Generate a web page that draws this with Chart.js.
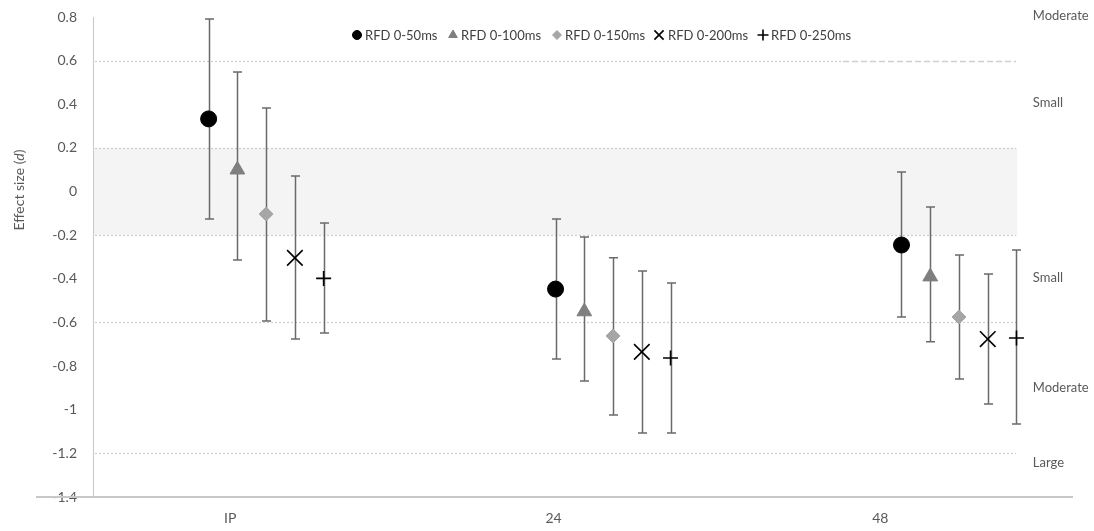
<!DOCTYPE html>
<html>
<head>
<meta charset="utf-8">
<script src="https://cdn.jsdelivr.net/npm/chart.js@4/dist/chart.umd.min.js"></script>
<style>
  html, body { margin: 0; padding: 0; background: #fff; }
  #wrap { width: 1094px; height: 531px; }
</style>
</head>
<body>
<div id="wrap"><canvas id="chart"></canvas></div>
<script>
// categories and where their labels sit on the x scale
const categories = ['IP', '24', '48'];
const tickPos = [0.42, 1.41, 2.41];
// centre of each group of markers and offset of each series inside a group
const groupCenters = [0.53, 1.592, 2.651];
const seriesOffsets = [-0.176, -0.088, 0, 0.088, 0.176];

const seriesNames = ['RFD 0-50ms', 'RFD 0-100ms', 'RFD 0-150ms', 'RFD 0-200ms', 'RFD 0-250ms'];

// effect sizes (d) and 95% limits per series: IP, 24, 48
const rfd50 = [0.333, -0.447, -0.245];
const rfd50Lo = [-0.126, -0.767, -0.575];
const rfd50Hi = [0.791, -0.126, 0.09];

const rfd100 = [0.10, -0.55, -0.39];
const rfd100Lo = [-0.314, -0.868, -0.689];
const rfd100Hi = [0.548, -0.208, -0.071];

const rfd150 = [-0.103, -0.662, -0.575];
const rfd150Lo = [-0.593, -1.024, -0.859];
const rfd150Hi = [0.383, -0.304, -0.291];

const rfd200 = [-0.304, -0.735, -0.676];
const rfd200Lo = [-0.676, -1.107, -0.974];
const rfd200Hi = [0.071, -0.364, -0.378];

const rfd250 = [-0.398, -0.763, -0.671];
const rfd250Lo = [-0.648, -1.107, -1.065];
const rfd250Hi = [-0.144, -0.419, -0.268];

// y ticks
const yTicks = [0.8, 0.6, 0.4, 0.2, 0, -0.2, -0.4, -0.6, -0.8, -1, -1.2, -1.4];

// threshold lines, trivial band, and zone labels on the right
const refLines = [0.6, 0.2, -0.2, -0.6, -1.2];
const trivialBand = [-0.2, 0.2];
const zoneLabels = ['Moderate', 'Small', 'Small', 'Moderate', 'Large'];
const zoneLabelY = [0.805, 0.406, -0.396, -0.9, -1.244];

const FONT = 'Lato, "Open Sans", sans-serif';

const means = [rfd50, rfd100, rfd150, rfd200, rfd250];
const lows = [rfd50Lo, rfd100Lo, rfd150Lo, rfd200Lo, rfd250Lo];
const highs = [rfd50Hi, rfd100Hi, rfd150Hi, rfd200Hi, rfd250Hi];

const styles = [
  { pointStyle: 'circle', radius: 8, fill: '#000000', stroke: '#000000', lr: 4.5 },
  { pointStyle: 'triangle', radius: 8.5, fill: '#7f7f7f', stroke: '#7f7f7f', lr: 5 },
  { pointStyle: 'rectRot', radius: 7, fill: '#a6a6a6', stroke: '#a6a6a6', lr: 4.5 },
  { pointStyle: 'crossRot', radius: 11, fill: '#000000', stroke: '#000000', lr: 6.5 },
  { pointStyle: 'cross', radius: 7.5, fill: '#000000', stroke: '#000000', lr: 5.5 },
];

const datasets = means.map((vals, s) => ({
  label: seriesNames[s],
  data: vals.map((v, g) => ({ x: groupCenters[g] + seriesOffsets[s], y: v })),
  pointStyle: styles[s].pointStyle,
  pointRadius: styles[s].radius,
  pointHoverRadius: styles[s].radius,
  backgroundColor: styles[s].fill,
  borderColor: styles[s].stroke,
  pointBorderWidth: (s >= 3) ? 1.6 : 1,
  showLine: false,
}));

// band, dotted thresholds and error bars, under the markers
const backdropPlugin = {
  id: 'backdrop',
  beforeDatasetsDraw(chart) {
    const { ctx, chartArea, scales: { x, y } } = chart;
    const xEnd = x.getPixelForValue(2.826);
    ctx.save();
    // trivial band
    ctx.fillStyle = '#f4f4f4';
    const yTop = y.getPixelForValue(trivialBand[1]);
    const yBot = y.getPixelForValue(trivialBand[0]);
    ctx.fillRect(chartArea.left + 1, yTop, xEnd - chartArea.left, yBot - yTop);
    // dotted reference lines
    ctx.strokeStyle = '#cfcfcf';
    ctx.lineWidth = 1.3;
    refLines.forEach(v => {
      const py = Math.round(y.getPixelForValue(v)) + 0.5;
      ctx.setLineDash([2, 2]);
      ctx.beginPath();
      if (v === 0.6) {
        const xDash = x.getPixelForValue(2.296);
        ctx.moveTo(chartArea.left + 2, py);
        ctx.lineTo(xDash, py);
        ctx.stroke();
        ctx.setLineDash([6, 3]);
        ctx.beginPath();
        ctx.moveTo(xDash, py);
        ctx.lineTo(xEnd, py);
      } else {
        ctx.moveTo(chartArea.left + 2, py);
        ctx.lineTo(xEnd, py);
      }
      ctx.stroke();
    });
    ctx.setLineDash([]);
    // error bars
    ctx.strokeStyle = '#6a6a6a';
    ctx.lineWidth = 1.5;
    means.forEach((vals, s) => {
      vals.forEach((v, g) => {
        const px = Math.round(x.getPixelForValue(groupCenters[g] + seriesOffsets[s])) + 0.5;
        const pLo = y.getPixelForValue(lows[s][g]);
        const pHi = y.getPixelForValue(highs[s][g]);
        ctx.beginPath();
        ctx.moveTo(px, pHi);
        ctx.lineTo(px, pLo);
        ctx.moveTo(px - 4.5, pHi);
        ctx.lineTo(px + 4.5, pHi);
        ctx.moveTo(px - 4.5, pLo);
        ctx.lineTo(px + 4.5, pLo);
        ctx.stroke();
      });
    });
    ctx.restore();
  },
  afterDraw(chart) {
    const { ctx, chartArea, scales: { x, y } } = chart;
    ctx.save();
    // x axis line, running left under the last y label like the original
    ctx.strokeStyle = '#c8c8c8';
    ctx.lineWidth = 2;
    ctx.beginPath();
    ctx.moveTo(36, chartArea.bottom);
    ctx.lineTo(chartArea.right, chartArea.bottom);
    ctx.stroke();

    // zone labels on the right
    ctx.fillStyle = '#595959';
    ctx.font = '13px ' + FONT;
    ctx.textAlign = 'left';
    ctx.textBaseline = 'middle';
    const zx = x.getPixelForValue(2.877);
    zoneLabels.forEach((t, i) => ctx.fillText(t, zx, y.getPixelForValue(zoneLabelY[i])));

    // y axis title with italic d
    ctx.translate(19, 190);
    ctx.rotate(-Math.PI / 2);
    const parts = [['Effect size (', '14px ' + FONT], ['d', 'italic 14px ' + FONT], [')', '14px ' + FONT]];
    let total = 0;
    parts.forEach(p => { ctx.font = p[1]; total += ctx.measureText(p[0]).width; });
    let cx = -total / 2;
    parts.forEach(p => {
      ctx.font = p[1];
      ctx.fillText(p[0], cx, 0);
      cx += ctx.measureText(p[0]).width;
    });
    ctx.restore();

    // legend
    ctx.save();
    const legendX = [357, 453, 557, 659, 763];
    const legendY = 35;
    ctx.font = '13px ' + FONT;
    ctx.textBaseline = 'middle';
    ctx.textAlign = 'left';
    seriesNames.forEach((name, s) => {
      ctx.fillStyle = styles[s].fill;
      ctx.strokeStyle = styles[s].stroke;
      ctx.lineWidth = s >= 3 ? 1.6 : 1;
      Chart.helpers.drawPoint(ctx, { pointStyle: styles[s].pointStyle, radius: styles[s].lr, rotation: 0, borderWidth: ctx.lineWidth }, legendX[s], legendY);
      ctx.fillStyle = '#404040';
      ctx.fillText(name, legendX[s] + (s === 3 ? 9 : 8), legendY + 1);
    });
    ctx.restore();
  }
};

new Chart(document.getElementById('chart'), {
  type: 'scatter',
  data: { datasets },
  options: {
    responsive: true,
    maintainAspectRatio: false,
    animation: false,
    layout: { padding: { top: 17, right: 21, left: 0, bottom: 0 } },
    plugins: {
      legend: { display: false },
      tooltip: { enabled: false },
    },
    scales: {
      x: {
        type: 'linear',
        min: 0,
        max: 3,
        afterBuildTicks(scale) {
          scale.ticks = tickPos.map(v => ({ value: v }));
        },
        afterFit(scale) {
          scale.height = 34;
          scale.paddingLeft = 0;
          scale.paddingRight = 0;
        },
        grid: { display: false, drawTicks: false },
        border: { display: false },
        ticks: {
          autoSkip: false,
          maxRotation: 0,
          padding: 13,
          color: '#595959',
          font: { family: FONT, size: 14 },
          callback: (v, i) => categories[i],
        },
      },
      y: {
        min: -1.4,
        max: 0.8,
        afterBuildTicks(scale) {
          scale.ticks = yTicks.map(v => ({ value: v }));
        },
        afterFit(scale) {
          scale.width = 93;
          scale.paddingTop = 0;
          scale.paddingBottom = 0;
        },
        grid: { display: false, drawTicks: false },
        border: { display: true, color: '#c8c8c8', width: 1 },
        ticks: {
          padding: 16,
          color: '#595959',
          font: { family: FONT, size: 14 },
          callback: v => String(Math.round(v * 10) / 10),
        },
      },
    },
  },
  plugins: [backdropPlugin],
});
</script>
</body>
</html>
